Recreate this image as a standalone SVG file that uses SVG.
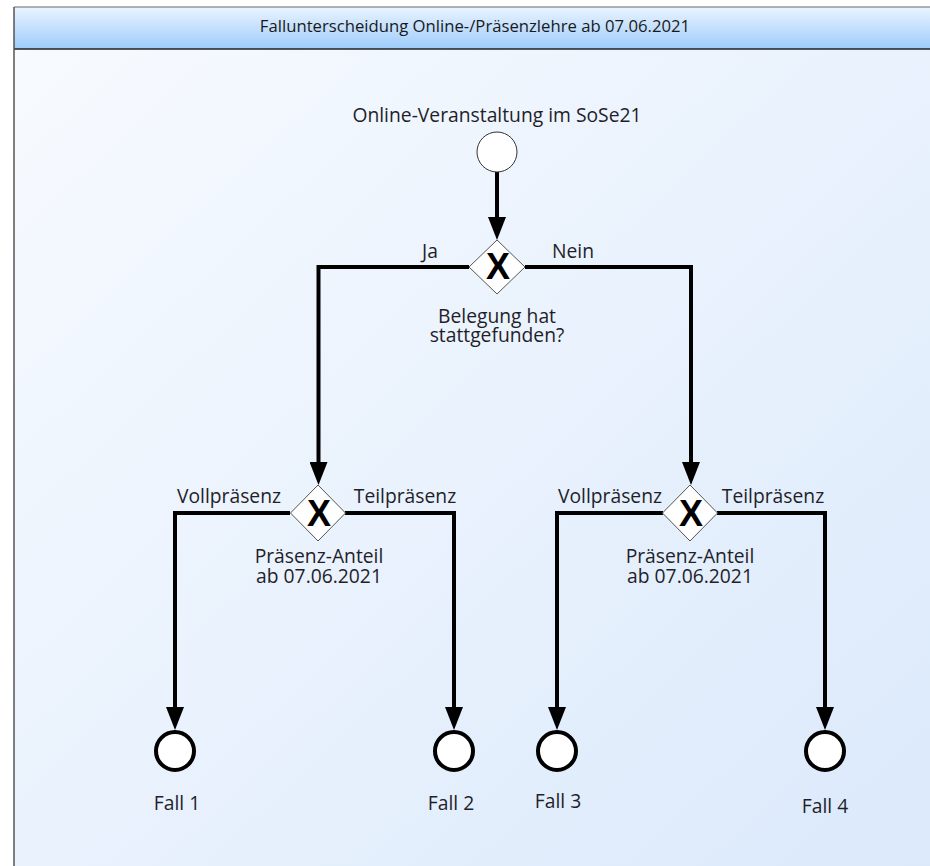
<svg xmlns="http://www.w3.org/2000/svg" width="930" height="866" viewBox="0 0 930 866">
<defs>
<linearGradient id="bg" x1="0" y1="0" x2="1" y2="1">
<stop offset="0" stop-color="#f8fbff"/>
<stop offset="1" stop-color="#dbe9fb"/>
</linearGradient>
<linearGradient id="hd" x1="0" y1="0" x2="0" y2="1">
<stop offset="0" stop-color="#eaf4ff"/>
<stop offset="1" stop-color="#9dcbfb"/>
</linearGradient>
<marker id="arr" markerUnits="userSpaceOnUse" markerWidth="24" markerHeight="18" refX="0" refY="9" orient="auto">
<path d="M0,0 L23,9 L0,18 z" fill="#000"/>
</marker>
<style>
.t{font-family:"Open Sans","Noto Sans","DejaVu Sans",sans-serif;font-size:19.3px;fill:#1f1f2a;text-anchor:middle}
.h{font-family:"Open Sans","Noto Sans",sans-serif;font-size:16.7px;fill:#1a1a1a;text-anchor:middle}
.c{fill:none;stroke:#000;stroke-width:4;marker-end:url(#arr)}
.gw{fill:#fff;stroke:#555;stroke-width:1}
.x{font-family:"Liberation Sans",Arial,sans-serif;font-weight:bold;font-size:36px;fill:#000;text-anchor:middle}
.end{fill:#fff;stroke:#000;stroke-width:4}
.start{fill:#fff;stroke:#333;stroke-width:1}
</style>
</defs>
<rect x="0" y="0" width="930" height="866" fill="#fff"/>
<g id="frame">
<rect x="14" y="7" width="920" height="862" fill="url(#bg)"/>
<rect x="14" y="7" width="920" height="42" fill="url(#hd)"/>
<line x1="14" y1="49" x2="930" y2="49" stroke="#222" stroke-width="1.5"/>
<line x1="14" y1="7" x2="930" y2="7" stroke="#666" stroke-width="1.2"/>
<line x1="14" y1="7" x2="14" y2="866" stroke="#555" stroke-width="1.5"/>
<text class="h" x="475" y="32">Fallunterscheidung Online-/Präsenzlehre ab 07.06.2021</text>
</g>
<g id="connectors">
<path class="c" d="M497,172 L497,217"/>
<path class="c" d="M469,267 L318.5,267 L318.5,462"/>
<path class="c" d="M525,267 L691,267 L691,462"/>
<path class="c" d="M290,513 L175,513 L175,707"/>
<path class="c" d="M345,513 L454,513 L454,707"/>
<path class="c" d="M663,513 L557,513 L557,707"/>
<path class="c" d="M717,513 L825,513 L825,707"/>
<text class="t" x="430" y="258">Ja</text>
<text class="t" x="573" y="258">Nein</text>
<text class="t" x="229" y="503">Vollpräsenz</text>
<text class="t" x="405" y="503">Teilpräsenz</text>
<text class="t" x="610" y="503">Vollpräsenz</text>
<text class="t" x="773" y="503">Teilpräsenz</text>
</g>
<g id="start">
<text class="t" x="497" y="122">Online-Veranstaltung im SoSe21</text>
<circle class="start" cx="497" cy="152" r="20"/>
</g>
<g id="gateway1">
<path class="gw" d="M497,240 L525,267 L497,294 L469,267 z"/>
<text class="x" x="498" y="279">X</text>
<text class="t" x="497" y="323">Belegung hat<tspan x="497" dy="19">stattgefunden?</tspan></text>
</g>
<g id="gateway2">
<path class="gw" d="M318,485 L345.5,513 L318,541 L290.5,513 z"/>
<text class="x" x="319" y="526">X</text>
<text class="t" x="319" y="563">Präsenz-Anteil<tspan x="319" dy="20">ab 07.06.2021</tspan></text>
</g>
<g id="gateway3">
<path class="gw" d="M690,485 L717.5,513 L690,541 L662.5,513 z"/>
<text class="x" x="691" y="526">X</text>
<text class="t" x="690" y="563">Präsenz-Anteil<tspan x="690" dy="20">ab 07.06.2021</tspan></text>
</g>
<g id="fall1">
<circle class="end" cx="175" cy="751" r="19"/>
<text class="t" x="177" y="810">Fall 1</text>
</g>
<g id="fall2">
<circle class="end" cx="454" cy="751" r="19"/>
<text class="t" x="451" y="810">Fall 2</text>
</g>
<g id="fall3">
<circle class="end" cx="557" cy="751" r="19"/>
<text class="t" x="558" y="808">Fall 3</text>
</g>
<g id="fall4">
<circle class="end" cx="825" cy="751" r="19"/>
<text class="t" x="825" y="813">Fall 4</text>
</g>
</svg>
